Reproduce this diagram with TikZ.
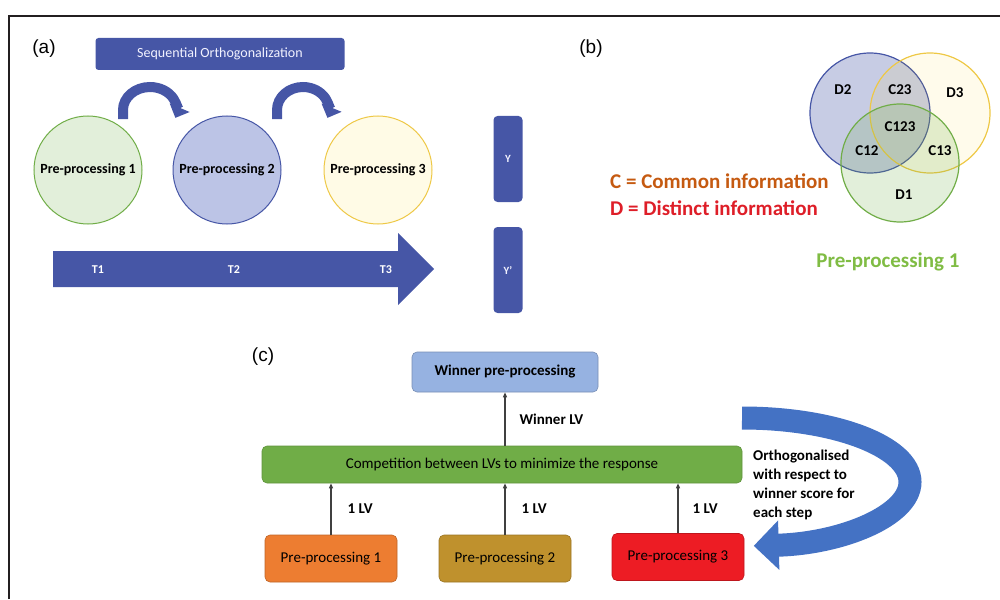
\documentclass[tikz,border=0pt]{standalone}
\usepackage{fontspec}
\setmainfont{Carlito}
\newfontfamily\panelfont{Liberation Sans}
\usetikzlibrary{arrows.meta}

\definecolor{seqblue}{RGB}{70,86,166}
\definecolor{loopblue}{RGB}{68,114,196}
\definecolor{frame}{RGB}{35,31,32}
\definecolor{greenedge}{RGB}{112,173,71}
\definecolor{greenfill}{RGB}{226,239,218}
\definecolor{bluefill}{RGB}{188,196,230}
\definecolor{yellowedge}{RGB}{238,200,70}
\definecolor{yellowfill}{RGB}{255,251,230}
\definecolor{winnerfill}{RGB}{150,178,225}
\definecolor{ppone}{RGB}{237,125,49}
\definecolor{pptwo}{RGB}{191,145,45}
\definecolor{ppthree}{RGB}{237,28,36}
\definecolor{commontext}{RGB}{197,90,17}
\definecolor{distincttext}{RGB}{222,30,40}
\definecolor{pplabel}{RGB}{128,188,68}

\begin{document}
\begin{tikzpicture}
        [x=1pt, y=-1pt, inner sep=0pt,
         panel/.style={font=\panelfont\fontsize{19}{19}\selectfont},
         stage/.style={circle, draw, line width=1pt, minimum size=108,
                       font=\bfseries\fontsize{14}{14}\selectfont},
         ybox/.style={rectangle, rounded corners=4, fill=seqblue, minimum width=29,
                      minimum height=86, text=blue!5, font=\bfseries\fontsize{11}{11}\selectfont},
         tlabel/.style={text=white, font=\bfseries\fontsize{12}{12}\selectfont},
         seqarrow/.style={seqblue, line width=10, -{Triangle[length=11pt,width=21pt]}},
         venntxt/.style={font=\bfseries\fontsize{15}{15}\selectfont},
         cbox/.style={rectangle, draw, rounded corners=5, line width=0.6pt,
                      minimum width=132, minimum height=47, font=\fontsize{15}{15}\selectfont},
         lv/.style={draw=black!75, line width=1.2pt, -{Triangle[length=5pt,width=4pt]}},
         lvtxt/.style={font=\bfseries\fontsize{15}{15}\selectfont}]
        \useasboundingbox (0,0) rectangle (1000,599);
        \draw [frame, line width=2.5pt] (9,599) -- (9,16) -- (1000,16);

        % (a) sequential orthogonalization
        \node (labela) at (44,49)[panel] {(a)};
        \node (seq) at (220,54)[rectangle, rounded corners=3, fill=seqblue, minimum width=249,
              minimum height=32, text=blue!5, font=\fontsize{14}{14}\selectfont]
              {Sequential Orthogonalization};
        \node (pp1) at ( 88,170)[stage, draw=greenedge,  fill=greenfill]  {Pre-processing 1};
        \node (pp2) at (227,170)[stage, draw=seqblue,    fill=bluefill]   {Pre-processing 2};
        \node (pp3) at (378,170)[stage, draw=yellowedge, fill=yellowfill] {Pre-processing 3};
        \coordinate (hop1) at (123,119);
        \coordinate (hop2) at (277,119);
        \draw [seqarrow] (hop1) -- ++(0,-9) arc[start angle=180, end angle=380, x radius=27, y radius=23];
        \draw [seqarrow] (hop2) -- ++(0,-9) arc[start angle=180, end angle=380, x radius=26, y radius=23];
        \fill [seqblue] (53,251) -- (398,251) -- (398,233) -- (434,269) -- (398,305)
              -- (398,287) -- (53,287) -- cycle;
        \node (t1) at ( 98,270)[tlabel] {T1};
        \node (t2) at (234,270)[tlabel] {T2};
        \node (t3) at (386,270)[tlabel] {T3};
        \node (y)  at (508,159)[ybox] {Y};
        \node (yp) at (508,270)[ybox] {Y’};

        % (b) common and distinct information
        \node (labelb) at (591,49)[panel] {(b)};
        \draw [seqblue, line width=1.2pt, fill=seqblue, fill opacity=0.3] (870,113) circle[radius=60];
        \draw [yellowedge, line width=1.2pt, fill=yellow!70!orange, fill opacity=0.08] (930,113) circle[radius=60];
        \draw [greenedge, line width=1.2pt, fill=greenedge, fill opacity=0.2] (900,163) circle[radius=59];
        \node (d2)   at (843, 90)[venntxt] {D2};
        \node (c23)  at (900, 90)[venntxt] {C23};
        \node (d3)   at (955, 93)[venntxt] {D3};
        \node (c123) at (900,127)[venntxt] {C123};
        \node (c12)  at (867,151)[venntxt] {C12};
        \node (c13)  at (940,151)[venntxt] {C13};
        \node (d1)   at (904,195)[venntxt] {D1};
        \node (common)   at (610,181)[anchor=west, text=commontext,
              font=\bfseries\fontsize{21}{21}\selectfont] {C = Common information};
        \node (distinct) at (610,208)[anchor=west, text=distincttext,
              font=\bfseries\fontsize{21}{21}\selectfont] {D = Distinct information};
        \node (vennname) at (888,262)[text=pplabel, font=\bfseries\fontsize{21}{21}\selectfont]
              {Pre-processing 1};

        % (c) competition between LVs
        \node (labelc) at (263,357)[panel] {(c)};
        \node (winner) at (505,372)[cbox, draw=winnerfill!80!black, fill=winnerfill, minimum width=186,
              minimum height=40, font=\bfseries\fontsize{15}{15}\selectfont] {Winner pre-processing};
        \node (compet) at (502,464.5)[cbox, draw=greenedge!85!black, fill=greenedge, minimum width=480,
              minimum height=37] {Competition between LVs to minimize the response};
        \node (ppa) at (331,558.5)[cbox, draw=ppone!80!black,   fill=ppone]   {Pre-processing 1};
        \node (ppb) at (505,558.5)[cbox, draw=pptwo!80!black,   fill=pptwo]   {Pre-processing 2};
        \node (ppc) at (678,557)  [cbox, draw=ppthree!80!black, fill=ppthree] {Pre-processing 3};
        \draw [lv] (compet.north -| winner.south) -- (winner.south)
              node[midway, right=14pt, lvtxt] {Winner LV};
        \draw [lv] (ppa.north) -- (ppa.north |- compet.south) node[midway, right=16pt, lvtxt] {1 LV};
        \draw [lv] (ppb.north) -- (ppb.north |- compet.south) node[midway, right=16pt, lvtxt] {1 LV};
        \draw [lv] (ppc.north) -- (ppc.north |- compet.south) node[midway, right=14pt, lvtxt] {1 LV};
        \coordinate (loop) at (742,418);
        \draw [loopblue, line width=23, -{Triangle[length=25pt,width=48pt]}]
              (loop) arc[start angle=-90, end angle=86, x radius=168, y radius=64];
        \node (orth) at (753,485)[anchor=west, align=left, font=\bfseries\fontsize{15}{19}\selectfont]
              {Orthogonalised\\with respect to\\winner score for\\each step};
    \end{tikzpicture}
\end{document}
